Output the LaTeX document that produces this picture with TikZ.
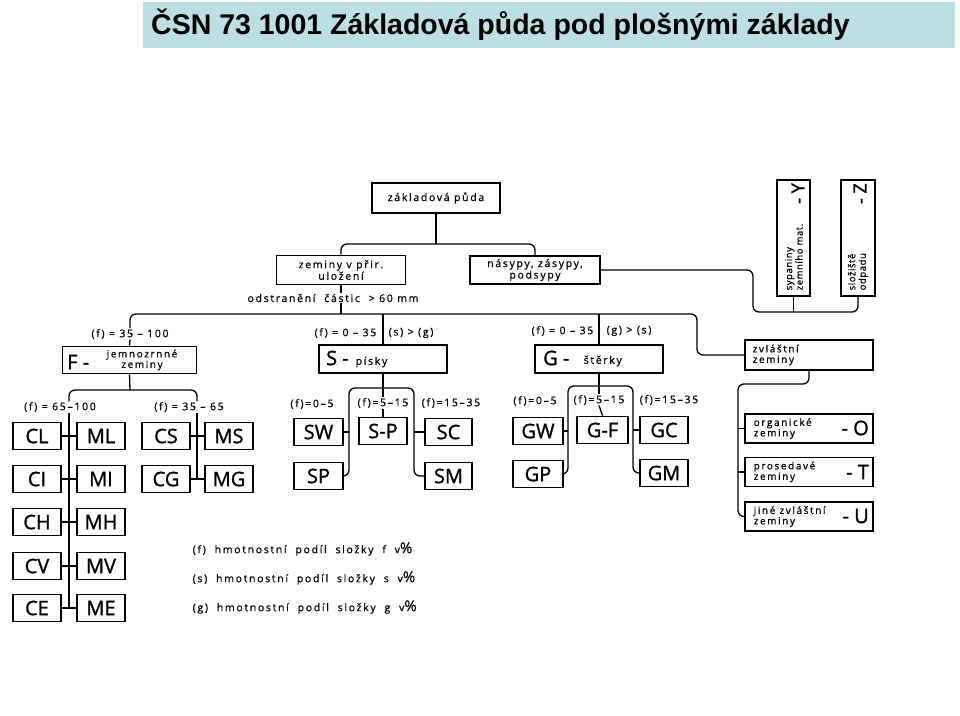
\documentclass[tikz,border=0pt]{standalone}
\usepackage{fontspec}
\setmainfont{Open Sans}
\newfontfamily\lblf{Open Sans}[LetterSpace=16, FakeBold=0.6]
\newfontfamily\rotf{Open Sans}[LetterSpace=6, FakeBold=0.6]
\newfontfamily\bigf{Open Sans}[FakeBold=1.2]
\newfontfamily\titlef{Liberation Sans}
\definecolor{titlebg}{RGB}{188,223,227}
\begin{document}
\begin{tikzpicture}[x=1pt,y=-1pt,
  box/.style={draw, line width=1.8pt, inner sep=0pt},
  conn/.style={line width=1.3pt, rounded corners=6pt},
  lbl/.style={font=\lblf\fontsize{10.5}{12}\selectfont, inner sep=0.5pt, align=center},
  sml/.style={font=\lblf\fontsize{10}{10.5}\selectfont, inner sep=0.5pt, align=left},
  rot/.style={font=\rotf\fontsize{9.5}{10.5}\selectfont, inner sep=0.5pt, align=left, rotate=90, anchor=west},
  big/.style={font=\bigf\fontsize{20}{20}\selectfont, inner sep=0pt},
  cbox/.style={box, minimum width=48pt, minimum height=27pt, font=\bigf\fontsize{20}{20}\selectfont},
  gbox/.style={box, minimum width=128pt, minimum height=29pt}
]
\useasboundingbox (0,0) rectangle (960,715);
\fill[white] (0,0) rectangle (960,715);
% title
\fill[titlebg] (143,2) rectangle (955,48);
\node[anchor=west, font=\titlef\bfseries\fontsize{28.5}{28.5}\selectfont, inner sep=0pt] (title) at (151,25) {ČSN 73 1001 Základová půda pod plošnými základy};

% top level
\node[box, lbl, inner sep=0pt, minimum width=128pt, minimum height=30pt] (root) at (436,198) {základová půda};
\node[box, lbl, inner sep=0pt, minimum width=129pt, minimum height=29pt, font=\lblf\fontsize{10.5}{10}\selectfont] (zem) at (341,270) {zeminy v přir.\\uložení};
\node[box, lbl, inner sep=0pt, minimum width=130pt, minimum height=28pt, font=\lblf\fontsize{10.5}{10}\selectfont] (nas) at (535,270) {násypy, zásypy,\\podsypy};
\coordinate (btop) at (436,244);
\draw[conn] (zem.north) |- (btop) -| (nas.north);
\draw[conn] (root.south) -- (btop);

% Y and Z
\node[box, minimum width=33pt, minimum height=116pt] (Y) at (793.5,238) {};
\node[rot] (ytxt) at (794,291) {sypaniny\\zemního mat.};
\node[big, font=\bigf\fontsize{18}{18}\selectfont, rotate=90, anchor=east] (ylet) at (798,183) {- Y};
\node[box, minimum width=34pt, minimum height=116pt] (Z) at (858,238) {};
\node[rot] (ztxt) at (858,291) {složiště\\odpadu};
\node[big, font=\bigf\fontsize{18}{18}\selectfont, rotate=90, anchor=east] (zlet) at (860,183) {- Z};
\coordinate (jyz) at (753,312);
\draw[conn] (nas.east) -| (jyz) -| (Z.south);
\draw[conn] (Y.south) -- (Y.south |- jyz);

% removal note
\node[lbl] (odstr) at (333,298) {odstranění \ částic \ > 60 mm};
\draw[conn] (zem.south) -- (zem.south |- odstr.north);
\coordinate (jmain) at (697,314);
\draw[conn] (odstr.south -| zem.south) -- (zem.south |- jmain);

% second level
\node[box, minimum width=134pt, minimum height=27pt] (F) at (129.5,360) {};
\node[big, anchor=west] (Flet) at (67,362) {F -};
\node[sml, align=center] (Ftxt) at (142,360) {jemnozrnné\\zeminy};
\node[lbl] (lF) at (130,334) {(f) = 35 – 100};

\node[box, minimum width=128pt, minimum height=28pt] (S) at (383,359) {};
\node[big, anchor=west] (Slet) at (326,358) {S -};
\node[lbl, anchor=west] (Stxt) at (355,362) {písky};
\node[lbl, anchor=east] (lS1) at (377,333) {(f) = 0 – 35};
\node[lbl, anchor=west] (lS2) at (388,333) {(s) > (g)};

\node[box, minimum width=128pt, minimum height=28pt] (G) at (599,359) {};
\node[big, anchor=west] (Glet) at (543,358) {G -};
\node[lbl, anchor=west] (Gtxt) at (583,361) {štěrky};
\node[lbl, anchor=east] (lG1) at (594,331) {(f) = 0 – 35};
\node[lbl, anchor=west] (lG2) at (606,331) {(g) > (s)};

\node[box, minimum width=128pt, minimum height=30pt] (zvl) at (809,355) {};
\node[sml, anchor=west, align=left] (zvltxt) at (752,355) {zvláštní\\zeminy};

\draw[conn] (lF.north) |- (jmain) |- (zvl.west);
\draw[conn] (lF.south) -- (F.north);
\draw[conn] (S.north) -- (S.north |- jmain);
\draw[conn] (G.north) -- (G.north |- jmain);

% special soils
\node[gbox] (O) at (809,428.5) {};
\node[gbox] (T) at (809,472) {};
\node[gbox] (U) at (809,516.5) {};
\node[sml] (Otxt) at (753,428.5) [anchor=west] {organické\\zeminy};
\node[sml] (Ttxt) at (753,472) [anchor=west] {prosedavé\\zeminy};
\node[sml] (Utxt) at (753,516.5) [anchor=west] {jiné zvláštní\\zeminy};
\node[big, anchor=east] (Olet) at (869,428) {- O};
\node[big, anchor=east] (Tlet) at (869,472) {- T};
\node[big, anchor=east] (Ulet) at (869,516) {- U};
\coordinate (jz) at (738,384);
\draw[conn] (zvl.south) |- (jz) |- (U.west);
\draw[conn] (O.west -| jz) -- (O.west);
\draw[conn] (T.west -| jz) -- (T.west);

% F subtree
\node[lbl] (l65) at (60,407) {(f) = 65–100};
\node[lbl] (l35) at (189,407) {(f) = 35 – 65};
\coordinate (bF) at (130,390);
\coordinate (vF1) at (69,390);
\coordinate (vF2) at (197,390);
\draw[conn] (vF1 |- l65.north) |- (bF) -| (vF2 |- l35.north);
\draw[conn] (F.south) -- (bF);
\foreach \n/\c/\m/\y in {1/CL/ML/436, 2/CI/MI/479, 3/CH/MH/522, 4/CV/MV/566, 5/CE/ME/608}{
  \node[cbox] (c\n) at (37,\y) {\c};
  \node[cbox] (m\n) at (101,\y) {\m};
  \draw[conn] (c\n.east) -- (m\n.west);
}
\draw[conn] (vF1 |- l65.south) -- (vF1 |- c5.east);
\node[cbox] (cs) at (166,436) {CS};
\node[cbox] (ms) at (229,436) {MS};
\node[cbox] (cg) at (166,479) {CG};
\node[cbox] (mg) at (229,479) {MG};
\draw[conn] (cs.east) -- (ms.west);
\draw[conn] (cg.east) -- (mg.west);
\draw[conn] (vF2 |- l35.south) -- (vF2 |- cg.east);

% S subtree
\node[cbox, minimum width=49pt] (sw) at (318.5,432) {SW};
\node[cbox, minimum width=49pt] (sp) at (318.5,476) {SP};
\node[cbox] (sdp) at (383,431) {S-P};
\node[cbox, minimum width=47pt] (sc) at (448.5,432) {SC};
\node[cbox, minimum width=47pt] (sm) at (448.5,476) {SM};
\node[lbl] (ls1) at (312,404) {(f)=0–5};
\node[lbl] (ls2) at (383,403) {(f)=5–15};
\node[lbl] (ls3) at (451,403) {(f)=15–35};
\coordinate (bSl) at (349,388);
\coordinate (bSr) at (414,388);
\draw[conn] (sp.east) -| (bSl) -- (bSr) |- (sm.west);
\draw[conn] (S.south) -- (ls2.north);
\draw[conn] (ls2.south) -- (sdp.north);
\draw[conn] (sw.east) -- (sw.east -| bSl);
\draw[conn] (sc.west) -- (sc.west -| bSr);

% G subtree
\node[cbox, minimum width=50pt] (gw) at (538,431) {GW};
\node[cbox, minimum width=50pt] (gp) at (538,474) {GP};
\node[cbox, minimum width=51pt] (gf) at (602.5,430) {G-F};
\node[cbox] (gc) at (664,430) {GC};
\node[cbox] (gm) at (664,473) {GM};
\node[lbl] (lg1) at (535,401) {(f)=0–5};
\node[lbl] (lg2) at (599,400) {(f)=5–15};
\node[lbl] (lg3) at (669,400) {(f)=15–35};
\coordinate (bGl) at (568,386);
\coordinate (bGr) at (633,386);
\draw[conn] (gp.east) -| (bGl) -- (bGr) |- (gm.west);
\draw[conn] (G.south) -- (lg2.north);
\draw[conn] (lg2.south) -- (gf.north);
\draw[conn] (gw.east) -- (gw.east -| bGl);
\draw[conn] (gc.west) -- (gc.west -| bGr);

% legend
\node[lbl, anchor=west] (leg1) at (192,549) {(f)\ \ hmotnostní\ \ podíl\ \ složky\ \ f\ \ v{\fontsize{15}{15}\selectfont\%}};
\node[lbl, anchor=west] (leg2) at (192,578) {(s)\ \ hmotnostní\ \ podíl\ \ složky\ \ s\ \ v{\fontsize{15}{15}\selectfont\%}};
\node[lbl, anchor=west] (leg3) at (192,607) {(g)\ \ hmotnostní\ \ podíl\ \ složky\ \ g\ \ v{\fontsize{15}{15}\selectfont\%}};
\end{tikzpicture}
\end{document}
